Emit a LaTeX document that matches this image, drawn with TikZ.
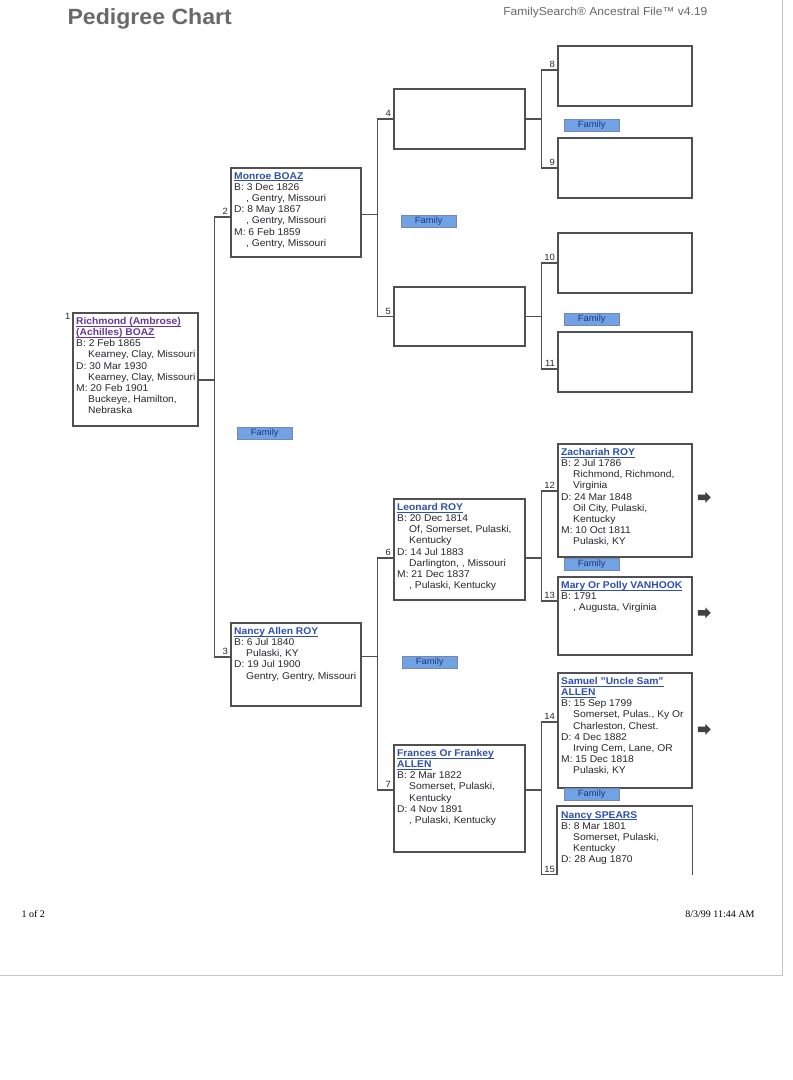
\documentclass[tikz,border=0pt]{standalone}
\usepackage{amsmath}
\usepackage{fontspec}
\setmainfont{Liberation Sans}[FakeStretch=1.05]
\newfontfamily\stampfont{Liberation Serif}
\usetikzlibrary{positioning, shapes.arrows}
\definecolor{boxline}{RGB}{80,80,80}
\definecolor{bodytext}{RGB}{40,40,45}
\definecolor{nameblue}{RGB}{45,80,175}
\definecolor{namepurple}{RGB}{105,55,150}
\definecolor{famfill}{RGB}{112,162,228}
\definecolor{famtext}{RGB}{30,55,125}
\definecolor{arrowgray}{RGB}{65,65,65}
\definecolor{headgray}{RGB}{105,105,105}
\newcommand{\who}[2][nameblue]{\textcolor{#1}{\bfseries\underline{\smash[b]{#2}}}}
\newcommand{\pl}{\hspace*{12pt}}

\begin{document}
\begin{tikzpicture}[x=1pt, y=-1pt,
        pbox/.style={draw=boxline, line width=1.6pt, anchor=north west, inner sep=0pt},
        ptext/.style={anchor=north west, inner sep=0pt, align=left, text=bodytext, font=\fontsize{9.8}{11.2}\selectfont},
        link/.style={draw=boxline, line width=1.6pt},
        num/.style={anchor=south east, inner sep=1.3pt, text=bodytext, font=\fontsize{9}{9}\selectfont},
        fam/.style={draw=famtext!60, fill=famfill, text=famtext, anchor=north west, minimum width=55pt, minimum height=12pt, inner sep=0pt, font=\fontsize{9}{9}\selectfont},
        nextgen/.style={single arrow, fill=arrowgray, minimum height=13pt, minimum width=11pt, single arrow head extend=2.5pt, inner sep=2.4pt}]
        \useasboundingbox (0,0) rectangle (793,1080);
        \fill[white] (0,0) rectangle (793,1080);
        \draw[gray!45, line width=0.8pt] (0,975) -- (782,975) -- (782,0);

        \node[anchor=base west, text=headgray, font=\fontsize{22}{22}\bfseries\selectfont] (title) at (64,24) {Pedigree Chart};
        \node[anchor=base east, text=headgray, font=\fontsize{11.5}{12}\selectfont] (source) at (711,15) {FamilySearch® Ancestral File™ v4.19};

        \node[pbox, minimum width=125, minimum height=113] (p1) at (72,312) {};
        \node[pbox, minimum width=130, minimum height=89] (p2) at (230,167) {};
        \node[pbox, minimum width=130, minimum height=83] (p3) at (230,622) {};
        \node[pbox, minimum width=131, minimum height=60] (p4) at (393,88) {};
        \node[pbox, minimum width=131, minimum height=59] (p5) at (393,286) {};
        \node[pbox, minimum width=131, minimum height=101] (p6) at (393,498) {};
        \node[pbox, minimum width=131, minimum height=107] (p7) at (393,744) {};
        \node[pbox, minimum width=134, minimum height=60] (p8) at (557,45) {};
        \node[pbox, minimum width=134, minimum height=60] (p9) at (557,137) {};
        \node[pbox, minimum width=134, minimum height=60] (p10) at (557,232) {};
        \node[pbox, minimum width=134, minimum height=60] (p11) at (557,331) {};
        \node[pbox, minimum width=134, minimum height=113] (p12) at (557,443) {};
        \node[pbox, minimum width=134, minimum height=78] (p13) at (557,576) {};
        \node[pbox, minimum width=134, minimum height=115] (p14) at (557,672) {};
        \node[pbox, draw=none, minimum width=134, minimum height=67] (p15) at (557,806) {};
        \draw[link] (p15.south west) -- (p15.north west) -- (p15.north east) -- (p15.south east);

        \node[ptext] (t1) at ([xshift=4pt,yshift=-5pt]p1.north west) {\who[namepurple]{Richmond (Ambrose)}\\ \who[namepurple]{(Achilles) BOAZ}\\ B: 2 Feb 1865\\ \pl Kearney, Clay, Missouri\\ D: 30 Mar 1930\\ \pl Kearney, Clay, Missouri\\ M: 20 Feb 1901\\ \pl Buckeye, Hamilton,\\ \pl Nebraska};
        \node[ptext] (t2) at ([xshift=4pt,yshift=-5pt]p2.north west) {\who{Monroe BOAZ}\\ B: 3 Dec 1826\\ \pl , Gentry, Missouri\\ D: 8 May 1867\\ \pl , Gentry, Missouri\\ M: 6 Feb 1859\\ \pl , Gentry, Missouri};
        \node[ptext] (t3) at ([xshift=4pt,yshift=-5pt]p3.north west) {\who{Nancy Allen ROY}\\ B: 6 Jul 1840\\ \pl Pulaski, KY\\ D: 19 Jul 1900\\ \pl Gentry, Gentry, Missouri};
        \node[ptext] (t6) at ([xshift=4pt,yshift=-5pt]p6.north west) {\who{Leonard ROY}\\ B: 20 Dec 1814\\ \pl Of, Somerset, Pulaski,\\ \pl Kentucky\\ D: 14 Jul 1883\\ \pl Darlington, , Missouri\\ M: 21 Dec 1837\\ \pl , Pulaski, Kentucky};
        \node[ptext] (t7) at ([xshift=4pt,yshift=-5pt]p7.north west) {\who{Frances Or Frankey}\\ \who{ALLEN}\\ B: 2 Mar 1822\\ \pl Somerset, Pulaski,\\ \pl Kentucky\\ D: 4 Nov 1891\\ \pl , Pulaski, Kentucky};
        \node[ptext] (t12) at ([xshift=4pt,yshift=-5pt]p12.north west) {\who{Zachariah ROY}\\ B: 2 Jul 1786\\ \pl Richmond, Richmond,\\ \pl Virginia\\ D: 24 Mar 1848\\ \pl Oil City, Pulaski,\\ \pl Kentucky\\ M: 10 Oct 1811\\ \pl Pulaski, KY};
        \node[ptext] (t13) at ([xshift=4pt,yshift=-5pt]p13.north west) {\who{Mary Or Polly VANHOOK}\\ B: 1791\\ \pl , Augusta, Virginia};
        \node[ptext] (t14) at ([xshift=4pt,yshift=-5pt]p14.north west) {\who{Samuel "Uncle Sam"}\\ \who{ALLEN}\\ B: 15 Sep 1799\\ \pl Somerset, Pulas., Ky Or\\ \pl Charleston, Chest.\\ D: 4 Dec 1882\\ \pl Irving Cem, Lane, OR\\ M: 15 Dec 1818\\ \pl Pulaski, KY};
        \node[ptext] (t15) at ([xshift=4pt,yshift=-5pt]p15.north west) {\who{Nancy SPEARS}\\ B: 8 Mar 1801\\ \pl Somerset, Pulaski,\\ \pl Kentucky\\ D: 28 Aug 1870};

        \node[num, anchor=north east] (n1) at (p1.north west) {1};
        \draw[link] ([yshift=-10.5pt]p1.east) -- ++(16,0) |- ([yshift=-4.5pt]p2.west) node[num] (n2) {2};
        \draw[link] ([yshift=-10.5pt]p1.east) -- ++(16,0) |- ([yshift=7.5pt]p3.west) node[num] (n3) {3};
        \draw[link] ([yshift=-2pt]p2.east) -- ++(16,0) |- (p4.west) node[num] (n4) {4};
        \draw[link] ([yshift=-2pt]p2.east) -- ++(16,0) |- (p5.west) node[num] (n5) {5};
        \draw[link] ([yshift=8pt]p3.east) -- ++(16,0) |- ([yshift=-8.5pt]p6.west) node[num] (n6) {6};
        \draw[link] ([yshift=8pt]p3.east) -- ++(16,0) |- ([yshift=8.5pt]p7.west) node[num] (n7) {7};
        \draw[link] (p4.east) -- ++(16,0) |- ([yshift=6pt]p8.west) node[num] (n8) {8};
        \draw[link] (p4.east) -- ++(16,0) |- (p9.west) node[num] (n9) {9};
        \draw[link] (p5.east) -- ++(16,0) |- (p10.west) node[num] (n10) {10};
        \draw[link] (p5.east) -- ++(16,0) |- ([yshift=-7pt]p11.west) node[num] (n11) {11};
        \draw[link] ([yshift=-8.5pt]p6.east) -- ++(16,0) |- ([yshift=9.5pt]p12.west) node[num] (n12) {12};
        \draw[link] ([yshift=-8.5pt]p6.east) -- ++(16,0) |- ([yshift=15pt]p13.west) node[num] (n13) {13};
        \draw[link] ([yshift=8.5pt]p7.east) -- ++(16,0) |- ([yshift=8.5pt]p14.west) node[num] (n14) {14};
        \draw[link] ([yshift=8.5pt]p7.east) -- ++(16,0) |- (p15.south west) node[num] (n15) {15};

        \node[fam] (f1) at (237,427) {Family};
        \node[fam] (f2) at (401,215) {Family};
        \node[fam] (f3) at (564,119) {Family};
        \node[fam] (f4) at (564,313) {Family};
        \node[fam] (f5) at (564,558) {Family};
        \node[fam] (f6) at (402,656) {Family};
        \node[fam] (f7) at (564,788) {Family};

        \node[nextgen, right=5pt of p12.east, yshift=3pt] (a12) {};
        \node[nextgen, right=5pt of p13.east, yshift=3pt] (a13) {};
        \node[nextgen, right=5pt of p14.east, yshift=1pt] (a14) {};

        \node[anchor=base west, font=\stampfont\fontsize{10}{10}\selectfont] (pg) at (18,917) {1 of 2};
        \node[anchor=base east, font=\stampfont\fontsize{10}{10}\selectfont] (stamp) at (758,917) {8/3/99 11:44 AM};
    \end{tikzpicture}
\end{document}
